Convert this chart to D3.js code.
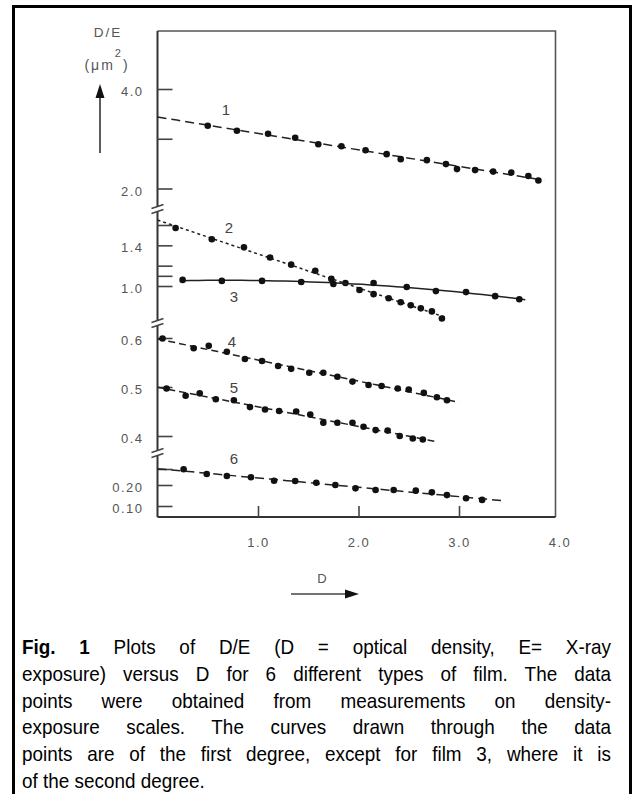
<!DOCTYPE html>
<html><head><meta charset="utf-8">
<script src="https://cdn.jsdelivr.net/npm/d3@7"></script>
<style>
html,body{margin:0;padding:0;background:#fff;}
svg{display:block;}
</style></head><body>
<svg id="c" width="633" height="794"></svg>
<script>
// ---------------- data ----------------
const filmNames = ["1", "2", "3", "4", "5", "6"];

const film1D = [0.50,0.79,1.10,1.37,1.60,1.83,2.07,2.28,2.42,2.68,2.87,2.98,3.16,3.34,3.52,3.69,3.79];
const film1V = [3.26,3.16,3.10,3.02,2.89,2.85,2.77,2.69,2.59,2.57,2.49,2.39,2.37,2.34,2.32,2.25,2.16];

const film2D = [0.18,0.54,0.86,1.12,1.33,1.57,1.73,1.87,2.01,2.15,2.30,2.42,2.52,2.62,2.73,2.83];
const film2V = [1.57,1.46,1.38,1.28,1.21,1.15,1.07,1.03,0.96,0.92,0.88,0.84,0.81,0.78,0.75,0.68];

const film3D = [0.25,0.64,1.04,1.43,1.75,2.15,2.48,2.77,3.07,3.36,3.60];
const film3V = [1.06,1.05,1.05,1.04,1.02,1.03,0.99,0.95,0.94,0.90,0.87];

const film4D = [0.05,0.36,0.51,0.69,0.87,1.04,1.20,1.33,1.51,1.65,1.79,1.94,2.10,2.23,2.39,2.50,2.65,2.78,2.88];
const film4V = [0.599,0.579,0.584,0.572,0.557,0.553,0.543,0.537,0.529,0.529,0.521,0.511,0.504,0.502,0.497,0.495,0.488,0.479,0.473];

const film5D = [0.09,0.28,0.42,0.58,0.76,0.92,1.07,1.21,1.38,1.52,1.65,1.79,1.94,2.05,2.17,2.29,2.41,2.54,2.64];
const film5V = [0.497,0.482,0.487,0.475,0.473,0.459,0.454,0.451,0.450,0.444,0.427,0.427,0.427,0.419,0.412,0.411,0.400,0.395,0.393];

const film6D = [0.26,0.49,0.69,0.93,1.16,1.37,1.58,1.77,1.97,2.17,2.35,2.57,2.73,2.88,3.07,3.23];
const film6V = [0.298,0.269,0.256,0.248,0.227,0.225,0.214,0.200,0.184,0.176,0.176,0.173,0.165,0.152,0.137,0.129];

// fitted curves: degree and D-range over which they are drawn
const fitDegree = [1, 1, 2, 1, 1, 1];
const fitFromD  = [0, 0, 0.24, 0, 0, 0];
const fitToD    = [3.85, 2.86, 3.66, 3.0, 2.77, 3.44];

// where each film's number is written (D, D/E)
const labelD = [0.68, 0.71, 0.76, 0.74, 0.76, 0.76];
const labelV = [3.58, 1.57, 0.89, 0.592, 0.499, 0.367];

// axis ticks
const xTickValues = [1, 2, 3, 4];
const xTickLabels = ["1.0", "2.0", "3.0", "4.0"];
const yTicksA = [4.0, 3.0, 2.0];            const yLabelsA = ["4.0", "", "2.0"];
const yTicksB = [1.6, 1.4, 1.2, 1.1, 1.0];  const yLabelsB = ["", "1.4", "", "", "1.0"];
const yTicksC = [0.6, 0.5, 0.4];            const yLabelsC = ["0.6", "0.5", "0.4"];
const yTicksD = [0.3, 0.2, 0.1];            const yLabelsD = ["", "0.20", "0.10"];

const captionBold = "Fig. 1";
const captionLines = [
  " Plots of D/E (D = optical density, E= X-ray",
  "exposure) versus D for 6 different types of film. The data",
  "points were obtained from measurements on density-",
  "exposure scales. The curves drawn through the data",
  "points are of the first degree, except for film 3, where it is",
  "of the second degree."
];

// ---------------- layout ----------------
const svg = d3.select("#c");
const axisX = 157.5, plotTop = 31, plotRight = 555.5, plotBottom = 517;
const labelFont = "'Liberation Sans', Arial, sans-serif";

const x = d3.scaleLinear().domain([0, 4]).range([axisX, 559.5]);
const segA = d3.scaleLinear().domain([2, 4]).range([188.5, 89]);
const segB = d3.scaleLinear().domain([1.0, 1.6]).range([286, 225]);
const segC = d3.scaleLinear().domain([0.4, 0.6]).range([436, 338]);
const segD = d3.scaleLinear().domain([0.1, 0.2, 0.3]).range([506, 485, 469]);

const films = [
  {D: film1D, V: film1V, y: segA},
  {D: film2D, V: film2V, y: segB},
  {D: film3D, V: film3V, y: segB},
  {D: film4D, V: film4V, y: segC},
  {D: film5D, V: film5V, y: segC},
  {D: film6D, V: film6V, y: segD}
];
const dashes = ["9,5", "3,3", null, "7,4", "7,4", "9,5"];

// outer border (open at the bottom)
svg.append("path").attr("d", "M13.5,800V6.5H630.5V800")
  .attr("fill", "none").attr("stroke", "#000").attr("stroke-width", 3);

// plot frame
svg.append("path")
  .attr("d", `M${axisX},${plotTop}H${plotRight}V${plotBottom}`)
  .attr("fill", "none").attr("stroke", "#555").attr("stroke-width", 1.6);
svg.append("line").attr("x1", axisX).attr("x2", axisX).attr("y1", plotTop).attr("y2", plotBottom)
  .attr("stroke", "#333").attr("stroke-width", 2);
svg.append("line").attr("x1", axisX).attr("x2", plotRight).attr("y1", plotBottom).attr("y2", plotBottom)
  .attr("stroke", "#333").attr("stroke-width", 2);

// y axis segments
function yAxis(scale, vals, labels) {
  const g = svg.append("g").attr("transform", `translate(${axisX},0)`)
    .call(d3.axisLeft(scale).tickValues(vals).tickSizeInner(-15).tickSizeOuter(0).tickPadding(14)
      .tickFormat((d, i) => labels[i]));
  g.select(".domain").remove();
  g.selectAll(".tick line").attr("stroke", "#444").attr("stroke-width", 1.6);
  g.selectAll(".tick text").attr("fill", "#555").style("font-family", labelFont)
    .style("font-size", "13px").style("letter-spacing", "1.5px").attr("dy", "0.5em");
}
yAxis(segA, yTicksA, yLabelsA);
yAxis(segB, yTicksB, yLabelsB);
yAxis(segC, yTicksC, yLabelsC);
yAxis(segD, yTicksD, yLabelsD);

// x axis
const gx = svg.append("g").attr("transform", `translate(0,${plotBottom})`)
  .call(d3.axisBottom(x).tickValues(xTickValues).tickSizeInner(-11).tickSizeOuter(0).tickPadding(21)
    .tickFormat((d, i) => xTickLabels[i]));
gx.select(".domain").remove();
gx.selectAll(".tick line").attr("stroke", "#444").attr("stroke-width", 1.6)
  .attr("opacity", d => x(d) < plotRight - 4 ? 1 : 0);
gx.selectAll(".tick text").attr("fill", "#555").style("font-family", labelFont)
  .style("font-size", "13px").style("letter-spacing", "1.5px");

// axis breaks
[209, 323, 453].forEach(yb => {
  svg.append("rect").attr("x", axisX - 3).attr("y", yb - 2.5).attr("width", 6).attr("height", 5).attr("fill", "#fff");
  [-2.5, 2.5].forEach(o => svg.append("line")
    .attr("x1", axisX - 6).attr("y1", yb + o + 2).attr("x2", axisX + 6).attr("y2", yb + o - 2)
    .attr("stroke", "#444").attr("stroke-width", 1.5));
});

// least-squares polynomial fit in drawing space
function polyfit(xs, ys, deg) {
  const n = deg + 1;
  const A = Array.from({length: n}, () => new Array(n + 1).fill(0));
  xs.forEach((xv, k) => {
    for (let i = 0; i < n; i++) {
      for (let j = 0; j < n; j++) A[i][j] += Math.pow(xv, i + j);
      A[i][n] += ys[k] * Math.pow(xv, i);
    }
  });
  for (let i = 0; i < n; i++) {
    let p = i;
    for (let r = i + 1; r < n; r++) if (Math.abs(A[r][i]) > Math.abs(A[p][i])) p = r;
    [A[i], A[p]] = [A[p], A[i]];
    for (let r = 0; r < n; r++) if (r !== i) {
      const f = A[r][i] / A[i][i];
      for (let c = i; c <= n; c++) A[r][c] -= f * A[i][c];
    }
  }
  return A.map((row, i) => row[n] / row[i]);
}

films.forEach((f, i) => {
  const px = f.D.map(d => x(d) - axisX);
  const py = f.V.map(v => f.y(v));
  const coef = polyfit(px, py, fitDegree[i]);
  const fy = xx => coef.reduce((s, c, k) => s + c * Math.pow(xx - axisX, k), 0);
  const steps = d3.range(0, 41).map(k => fitFromD[i] + (fitToD[i] - fitFromD[i]) * k / 40);
  svg.append("path")
    .attr("d", d3.line()(steps.map(d => [x(d), fy(x(d))])))
    .attr("fill", "none").attr("stroke", "#222").attr("stroke-width", 1.5)
    .attr("stroke-dasharray", dashes[i]);
  svg.append("g").selectAll("circle").data(f.D).join("circle")
    .attr("cx", d => x(d)).attr("cy", (d, k) => f.y(f.V[k])).attr("r", 3.3).attr("fill", "#111");
  svg.append("text").attr("x", x(labelD[i])).attr("y", f.y(labelV[i])).attr("dy", "0.35em")
    .attr("text-anchor", "middle").attr("fill", "#444")
    .style("font-family", labelFont).style("font-size", "15px").text(filmNames[i]);
});

// axis titles and arrows
svg.append("text").attr("x", 108).attr("y", 36.5).attr("text-anchor", "middle")
  .attr("fill", "#555").style("font-family", labelFont).style("font-size", "13.5px")
  .style("letter-spacing", "2px").text("D/E");
const unit = svg.append("text").attr("x", 107).attr("y", 70).attr("text-anchor", "middle")
  .attr("fill", "#555").style("font-family", labelFont).style("font-size", "14px")
  .style("letter-spacing", "2px");
unit.append("tspan").text("(μm");
unit.append("tspan").attr("dy", -13).style("font-size", "11px").text("2");
unit.append("tspan").attr("dy", 13).text(")");
svg.append("line").attr("x1", 100).attr("x2", 100).attr("y1", 153).attr("y2", 96)
  .attr("stroke", "#333").attr("stroke-width", 1.6);
svg.append("path").attr("d", "M100,84L95.5,98H104.5Z").attr("fill", "#111");

svg.append("text").attr("x", 322).attr("y", 583).attr("text-anchor", "middle")
  .attr("fill", "#555").style("font-family", labelFont).style("font-size", "13px").text("D");
svg.append("line").attr("x1", 291).attr("x2", 348).attr("y1", 594).attr("y2", 594)
  .attr("stroke", "#444").attr("stroke-width", 1.3);
svg.append("path").attr("d", "M359,594L345,589.5V598.5Z").attr("fill", "#111");

// caption: slightly condensed sans, justified by word spacing
const capX = 22, capW = 589, capY0 = 654, capLH = 26.8, capScaleX = 0.9;
captionLines.forEach((ln, i) => {
  const g = svg.append("g")
    .attr("transform", `translate(${capX},${capY0 + i * capLH}) scale(${capScaleX},1)`);
  const t = g.append("text").attr("x", 0).attr("y", 0)
    .attr("fill", "#000").style("font-family", labelFont).style("font-size", "21px")
    .attr("xml:space", "preserve");
  if (i === 0) t.append("tspan").style("font-weight", "bold").text(captionBold);
  t.append("tspan").text(ln);
  const full = (i === 0 ? captionBold : "") + ln;
  const spaces = (full.match(/ /g) || []).length;
  if (i < captionLines.length - 1) {
    const w = t.node().getComputedTextLength();
    t.style("word-spacing", ((capW / capScaleX - w) / spaces) + "px");
  }
});
</script>
</body></html>
